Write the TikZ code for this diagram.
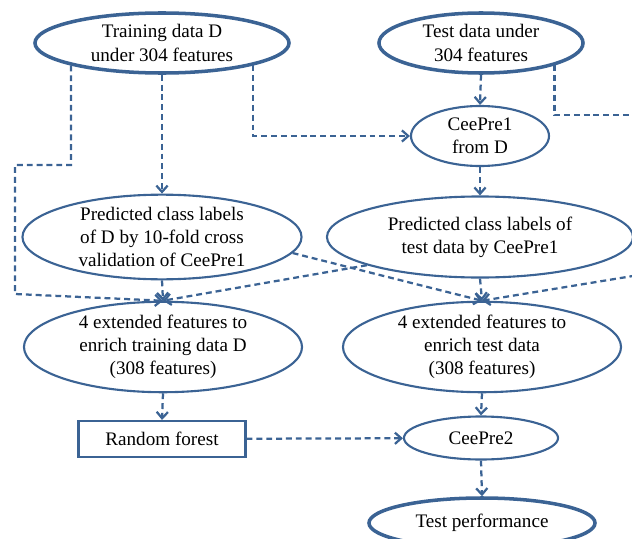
\documentclass[tikz,border=0pt]{standalone}
\usepackage{fontspec}
\setmainfont{Liberation Serif}
\usetikzlibrary{shapes.geometric, arrows.meta}
\definecolor{flowblue}{HTML}{3B6394}

\begin{document}
\begin{tikzpicture}[
    x=0.025cm, y=-0.025cm,
    font=\fontsize{13.6}{16.5}\selectfont,
    ell/.style={ellipse, draw=flowblue, line width=1.5pt, inner sep=0pt, align=center},
    bigell/.style={ell, line width=2.5pt},
    box/.style={rectangle, draw=flowblue, line width=1.5pt, inner sep=0pt, align=center},
    link/.style={draw=flowblue, line width=1.6pt, dash pattern=on 4.2pt off 2.8pt, -{Straight Barb[length=4.5pt,width=8pt]}},
    plain/.style={link, -}
]
\useasboundingbox (0,0) rectangle (632,539);

\node[bigell, minimum width=6.35cm, minimum height=1.5cm] (trn) at (162,43) {Training data D\\under 304 features};
    \node[bigell, minimum width=5.1cm, minimum height=1.5cm] (tst) at (481,43) {Test data under\\304 features};
    \node[ell, minimum width=3.45cm, minimum height=1.5cm] (cp1) at (480,136) {CeePre1\\from D};

\node[ell, minimum width=6.975cm, minimum height=2cm] (plab1) at (162,237) {Predicted class labels\\of D by 10-fold cross\\validation of CeePre1};
    \node[ell, minimum width=7.65cm, minimum height=2.025cm] (plab2) at (480,237) {Predicted class labels of\\test data by CeePre1};

\node[ell, minimum width=6.95cm, minimum height=1.725cm] (ext1) at (163,347) {4 extended features to\\enrich training data D\\(308 features)};
    \node[ell, minimum width=6.95cm, minimum height=1.725cm] (ext2) at (482,347) {4 extended features to\\enrich test data\\(308 features)};

\node[box, minimum width=4.175cm, minimum height=0.9cm] (rf) at (162,439) {Random forest};
    \node[ell, minimum width=3.85cm, minimum height=1.075cm] (cp2) at (481,438) {CeePre2};
    \node[bigell, minimum width=5.65cm, minimum height=1.25cm] (perf) at (482,523) {Test performance};

\coordinate (off1) at (645,115);
    \coordinate (off2) at (645,274);

\draw[link] (trn.south) -- (plab1.north);
    \draw[link] (trn.south west) |- (15,165) -- (15,294) -- (ext1.north);
    \draw[link] (trn.south east) |- (cp1);

\draw[link] (tst.south) -- (cp1.north);
    \draw[plain] (tst.south east) |- (off1);
    \draw[link] (cp1.south) -- (plab2.north);

\draw[link] (plab1.south) -- (ext1.north);
    \draw[link] (plab1.-7) -- (ext2.north);
    \draw[link] (plab2.194) -- (ext1.north);
    \draw[link] (plab2.south) -- (ext2.north);
    \draw[link] (off2) -- (ext2.north);

\draw[link] (ext1.south) -- (rf.north);
    \draw[link] (ext2.south) -- (cp2.north);
    \draw[link] (rf) -- (cp2);
    \draw[link] (cp2.south) -- (perf.north);
\end{tikzpicture}
\end{document}
